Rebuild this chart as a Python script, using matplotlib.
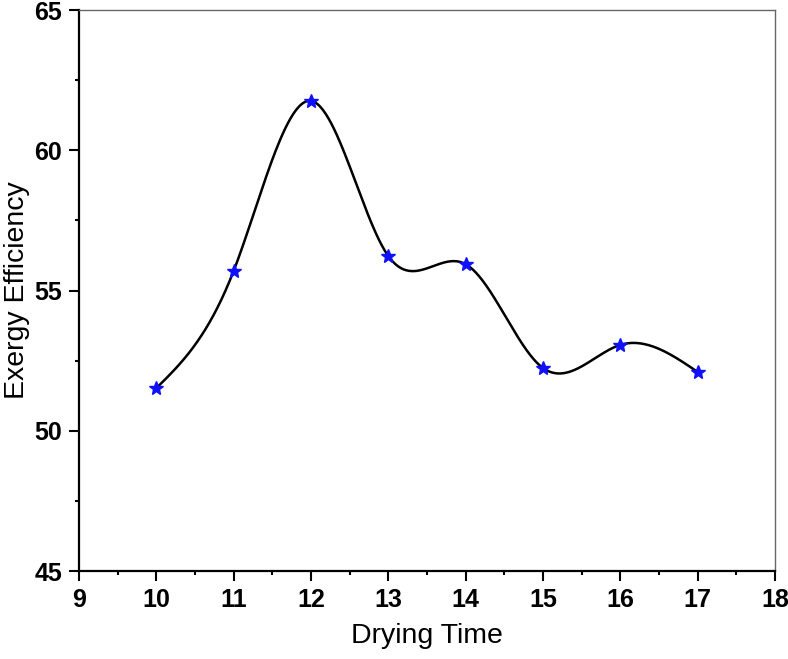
import numpy as np
import matplotlib
matplotlib.use("Agg")
import matplotlib.pyplot as plt
from matplotlib.ticker import MultipleLocator

plt.rcParams['font.family'] = ['Liberation Sans', 'DejaVu Sans']
plt.rcParams['xtick.labelsize'] = 18
plt.rcParams['ytick.labelsize'] = 18

drying_time = [10, 11, 12, 13, 14, 15, 16, 17]
exergy_eff = [51.52, 55.70, 61.76, 56.23, 55.94, 52.24, 53.06, 52.10]


def natural_spline(x, y, n=400):
    # natural cubic spline, plain numpy
    x = np.asarray(x, float)
    y = np.asarray(y, float)
    k = len(x)
    h = np.diff(x)
    A = np.zeros((k, k))
    b = np.zeros(k)
    A[0, 0] = 1
    A[-1, -1] = 1
    for i in range(1, k - 1):
        A[i, i - 1] = h[i - 1]
        A[i, i] = 2 * (h[i - 1] + h[i])
        A[i, i + 1] = h[i]
        b[i] = 3 * ((y[i + 1] - y[i]) / h[i] - (y[i] - y[i - 1]) / h[i - 1])
    c = np.linalg.solve(A, b)
    xs = np.linspace(x[0], x[-1], n)
    ys = np.empty_like(xs)
    for j, xv in enumerate(xs):
        i = min(np.searchsorted(x, xv, side='right') - 1, k - 2)
        dx = xv - x[i]
        bb = (y[i + 1] - y[i]) / h[i] - h[i] * (2 * c[i] + c[i + 1]) / 3
        dd = (c[i + 1] - c[i]) / (3 * h[i])
        ys[j] = y[i] + bb * dx + c[i] * dx ** 2 + dd * dx ** 3
    return xs, ys


fig = plt.figure(figsize=(7.88, 6.59), dpi=100)
ax = fig.add_axes([0.1003, 0.1335, 0.883, 0.8513])

xs, ys = natural_spline(drying_time, exergy_eff)
ax.plot(xs, ys, color='black', lw=1.8, zorder=2)
ax.plot(drying_time, exergy_eff, linestyle='none', marker='*', color='#1010ff',
        markersize=10, zorder=3)

ax.set_xlim(9, 18)
ax.set_ylim(45, 65)
ax.xaxis.set_major_locator(MultipleLocator(1))
ax.xaxis.set_minor_locator(MultipleLocator(0.5))
ax.yaxis.set_major_locator(MultipleLocator(5))
ax.yaxis.set_minor_locator(MultipleLocator(2.5))
ax.tick_params(which='major', direction='out', length=7, width=1.5, pad=5)
ax.tick_params(which='minor', direction='out', length=3, width=1.5)
ax.tick_params(top=False, right=False)
for lab in ax.get_xticklabels() + ax.get_yticklabels():
    lab.set_fontweight('bold')

for s in ['left', 'bottom']:
    ax.spines[s].set_linewidth(1.6)
    ax.spines[s].set_color('black')
for s in ['top', 'right']:
    ax.spines[s].set_linewidth(1.0)
    ax.spines[s].set_color('#666666')

ax.set_xlabel('Drying Time', fontsize=20.5, labelpad=8)
ax.set_ylabel('Exergy Efficiency', fontsize=20.5, labelpad=3)

fig.savefig('out.png', dpi=100)
